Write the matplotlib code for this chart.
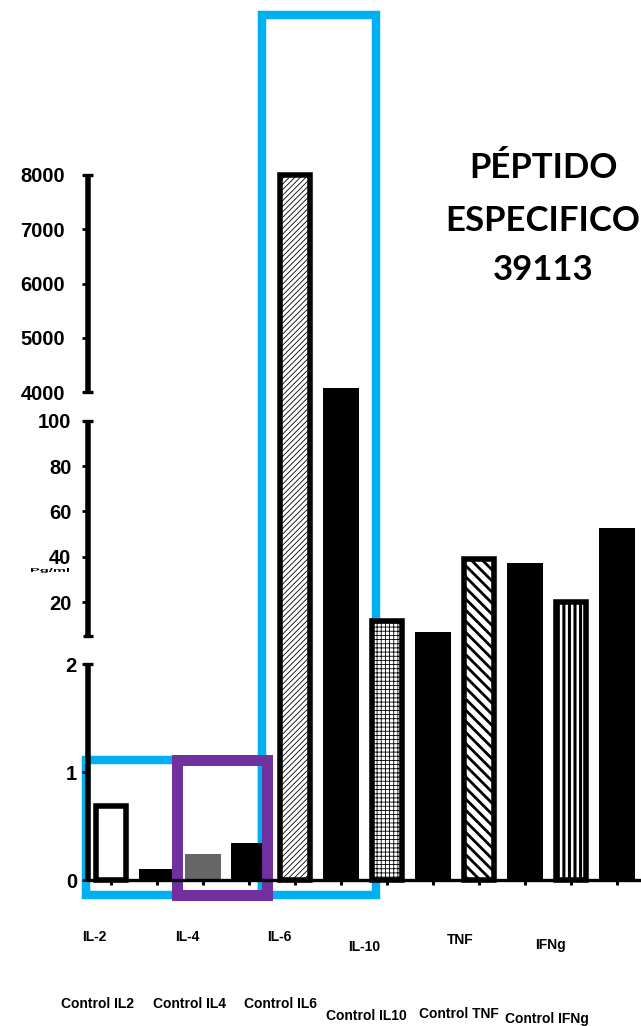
import numpy as np
import matplotlib
matplotlib.use('Agg')
import matplotlib.pyplot as plt
from matplotlib.patches import Rectangle, PathPatch
from matplotlib.transforms import blended_transform_factory, Affine2D
from matplotlib.ticker import NullLocator
from matplotlib.textpath import TextPath
from matplotlib.font_manager import FontProperties

# ---------------- data ----------------
categories = ['Control IL2', 'IL-2', 'Control IL4', 'IL-4', 'Control IL6', 'IL-6',
              'Control IL10', 'IL-10', 'Control TNF', 'TNF', 'Control IFNg', 'IFNg']
values = [0.69, 0.10, 0.24, 0.34, 8000, 4070, 11.6, 6.8, 39, 37.3, 20, 52.5]
cytokine_labels = ['IL-2', 'IL-4', 'IL-6', 'IL-10', 'TNF', 'IFNg']
control_labels = ['Control IL2', 'Control IL4', 'Control IL6',
                  'Control IL10', 'Control TNF', 'Control IFNg']
y_ticks = [0, 1, 2, 20, 40, 60, 80, 100, 4000, 5000, 6000, 7000, 8000]
y_segments = [(0, 2), (4.85, 100), (4000, 8000)]
title_lines = ['PÉPTIDO', 'ESPECIFICO', '39113']
y_unit = 'Pg/ml'

# ---------------- layout / style ----------------
W, H = 641, 1026
fig = plt.figure(figsize=(W / 100, H / 100), dpi=100)
ax = fig.add_axes([88 / W, (H - 880) / H, 552 / W, 705 / H])

# piecewise (broken) y scale: value -> pixel height above the x axis
brk_v = [0, 2, 4.85, 100, 4000, 8000]
brk_d = [0, 215.7, 243.6, 459.3, 487.7, 705]


def fwd(v):
    return np.interp(v, brk_v, brk_d)


def inv(d):
    return np.interp(d, brk_d, brk_v)


ax.set_yscale('function', functions=(fwd, inv))
ax.set_ylim(0, 8000)
ax.set_xlim(-0.5, 11.5)

fills = ['white', 'black', '#666666', 'black', 'white', 'black',
         'white', 'black', 'white', 'black', 'white', 'black']
hatches = [None, None, None, None, '//////', None, '++++', None, '\\\\\\', None, '|||', None]
hatch_lw = [1, 1, 1, 1, 0.6, 1, 0.6, 1, 2.0, 1, 2.2, 1]
edged = [True, False, False, False, True, False, True, False, True, False, True, False]

x = np.arange(len(categories))
for i in range(len(categories)):
    with plt.rc_context({'hatch.linewidth': hatch_lw[i]}):
        bars = ax.bar(x[i], values[i], width=0.67 if edged[i] else 0.80,
                      facecolor=fills[i],
                      edgecolor='black' if edged[i] else fills[i],
                      linewidth=4 if edged[i] else 0,
                      hatch=hatches[i], zorder=2, clip_on=False)
    for p in bars:
        p.set_joinstyle('miter')
        if hasattr(p, 'set_hatch_linewidth'):
            p.set_hatch_linewidth(hatch_lw[i])

# axes styling
for s in ['left', 'top', 'right']:
    ax.spines[s].set_visible(False)
ax.spines['bottom'].set_linewidth(2.4)
ax.spines['bottom'].set_zorder(4)
ax.set_xticks(x)
ax.set_xticklabels([''] * len(x))
ax.tick_params(axis='x', direction='out', length=3.5, width=2.2, color='black')

ax.set_yticks(y_ticks)
ax.set_yticklabels([str(v) for v in y_ticks])
ax.yaxis.set_minor_locator(NullLocator())
ax.tick_params(axis='y', direction='out', length=4, width=2, color='black',
               labelsize=14.5)
for lab in ax.get_yticklabels():
    lab.set_fontweight('bold')
    lab.set_fontfamily('Liberation Sans')
for t, v in zip(ax.yaxis.get_major_ticks(), y_ticks):
    if v <= 2:
        t.set_pad(4)
    elif v <= 100:
        t.set_pad(8)
    else:
        t.set_pad(12.5)

# broken y spine
trans = blended_transform_factory(ax.transAxes, ax.transData)
for lo, hi in y_segments:
    ax.plot([0, 0], [lo, hi], transform=trans, color='black', lw=4,
            solid_capstyle='butt', clip_on=False, zorder=4)
caps = [v for seg in y_segments for v in seg if v != 0]
ax.plot([0] * len(caps), caps, transform=trans, ls='none', marker='_',
        ms=7, mew=2.4, color='black', clip_on=False, zorder=4)

# highlight boxes (pixel coordinates, y downward)
px = Affine2D().scale(1 / W, -1 / H).translate(0, 1) + fig.transFigure
blue = '#00B0F0'
purple = '#7030A0'
for (x0, y0, x1, y1) in [(262, 14.5, 375.5, 895), (86, 760, 262, 895)]:
    r = Rectangle((x0, y0), x1 - x0, y1 - y0, transform=px, fill=False,
                  edgecolor=blue, lw=6.1, joinstyle='miter', zorder=1, clip_on=False)
    ax.add_artist(r)
r = Rectangle((177, 760), 266.5 - 177, 894.5 - 760, transform=px, fill=False,
              edgecolor=purple, lw=7.9, joinstyle='miter', zorder=2.5, clip_on=False)
ax.add_artist(r)

# category labels
cyt_pos = [(94.6, 937), (187, 937), (279, 937), (364, 947), (460.5, 940), (550, 945)]
ctl_pos = [(97.3, 1004.5), (189.4, 1004.5), (281, 1004.5), (366, 1015.5),
           (458.7, 1013.5), (547, 1019.5)]
for lab, (xx, yy) in zip(cytokine_labels, cyt_pos):
    fig.text(xx / W, 1 - yy / H, lab, ha='center', va='center', fontsize=10,
             fontweight='bold', family='Liberation Sans')
for lab, (xx, yy) in zip(control_labels, ctl_pos):
    fig.text(xx / W, 1 - yy / H, lab, ha='center', va='center', fontsize=10,
             fontweight='bold', family='Liberation Sans')

# title
for line, yy in zip(title_lines, [178, 231, 280]):
    fig.text(543 / W, 1 - yy / H, line, ha='center', va='baseline', fontsize=25,
             fontweight='bold', family=['Lato', 'DejaVu Sans'])

# tiny stretched y unit label
tp = TextPath((0, 0), y_unit, size=10,
              prop=FontProperties(family='Liberation Sans', weight='bold'))
ext = tp.get_extents()
sx = 38 / ext.width
sy = 5 / ext.height
tr = (Affine2D().translate(-ext.x0, -ext.y0).scale(sx, sy)
      .translate(31, H - 573) + Affine2D().scale(1 / W, 1 / H) + fig.transFigure)
fig.patches.append(PathPatch(tp, transform=tr, facecolor='black', edgecolor='none',
                             figure=fig))

fig.savefig('out.png', dpi=100)
